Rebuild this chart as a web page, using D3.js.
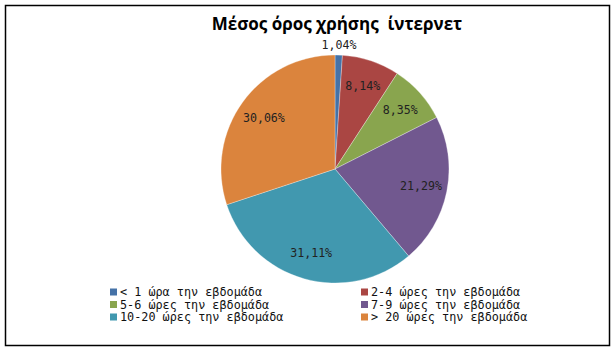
<!DOCTYPE html>
<html>
<head>
<meta charset="utf-8">
<script src="https://cdn.jsdelivr.net/npm/d3@7"></script>
<style>
  body { margin: 0; background: #fff; }
  svg { display: block; }
</style>
</head>
<body>
<svg id="chart" width="615" height="353"></svg>
<script>
// chart data
var categories = ["< 1 ώρα την εβδομάδα", "2-4 ώρες την εβδομάδα", "5-6 ώρες την εβδομάδα",
                  "7-9 ώρες την εβδομάδα", "10-20 ώρες την εβδομάδα", "> 20 ώρες την εβδομάδα"];
var values = [1.04, 8.14, 8.35, 21.29, 31.11, 30.06];
var labels = ["1,04%", "8,14%", "8,35%", "21,29%", "31,11%", "30,06%"];
var colors = ["#4572A7", "#AA4643", "#89A54E", "#71588F", "#4198AF", "#DB843D"];

var svg = d3.select("#chart");
var cx = 335, cy = 169, r = 114;

// frame
svg.append("rect")
  .attr("x", 5.5).attr("y", 5.5)
  .attr("width", 604).attr("height", 340)
  .attr("fill", "#fff").attr("stroke", "#000").attr("stroke-width", 1.5);

// title
svg.append("text")
  .attr("x", 337).attr("y", 30)
  .attr("text-anchor", "middle")
  .style("font-family", "'Open Sans', 'Liberation Sans', sans-serif")
  .style("font-weight", "bold")
  .style("font-size", "17px")
  .style("white-space", "pre")
  .attr("xml:space", "preserve")
  .text("Μέσος όρος χρήσης  ίντερνετ");

///////////////////////////////////////////////////////////////////////////////
// pie

var pie = d3.pie().sort(null).value(function (d) { return d; });
var arcs = pie(values);
var arc = d3.arc().innerRadius(0).outerRadius(r);
var labelArc = d3.arc().innerRadius(r * 0.77).outerRadius(r * 0.77);
var outArc = d3.arc().innerRadius(r + 10).outerRadius(r + 10);

var g = svg.append("g").attr("transform", "translate(" + cx + "," + cy + ")");

g.selectAll("path")
  .data(arcs)
  .enter().append("path")
  .attr("d", arc)
  .attr("fill", function (d, i) { return colors[i]; })
  .attr("stroke", "rgba(255,255,255,0.5)")
  .attr("stroke-width", 0.6);

g.selectAll("text.lbl")
  .data(arcs)
  .enter().append("text")
  .attr("class", "lbl")
  .attr("transform", function (d, i) {
    var c = (values[i] < 3 ? outArc : labelArc).centroid(d);
    return "translate(" + c[0] + "," + (c[1] + 4) + ")";
  })
  .attr("text-anchor", "middle")
  .style("font-family", "'DejaVu Sans Mono', monospace")
  .style("font-size", "11.6px")
  .attr("fill", "#222")
  .text(function (d, i) { return labels[i]; });

///////////////////////////////////////////////////////////////////////////////
// legend, two columns

var colX = [110, 361], rowY = [292, 304.5, 317];
var legend = svg.selectAll("g.leg")
  .data(categories)
  .enter().append("g")
  .attr("class", "leg")
  .attr("transform", function (d, i) {
    return "translate(" + colX[i % 2] + "," + rowY[Math.floor(i / 2)] + ")";
  });

legend.append("rect")
  .attr("x", 0).attr("y", -3.5)
  .attr("width", 7).attr("height", 7)
  .attr("fill", function (d, i) { return colors[i]; });

legend.append("text")
  .attr("x", 10).attr("y", 4)
  .style("font-family", "'DejaVu Sans Mono', monospace")
  .style("font-size", "11.8px")
  .attr("fill", "#111")
  .text(function (d) { return d; });
</script>
</body>
</html>
